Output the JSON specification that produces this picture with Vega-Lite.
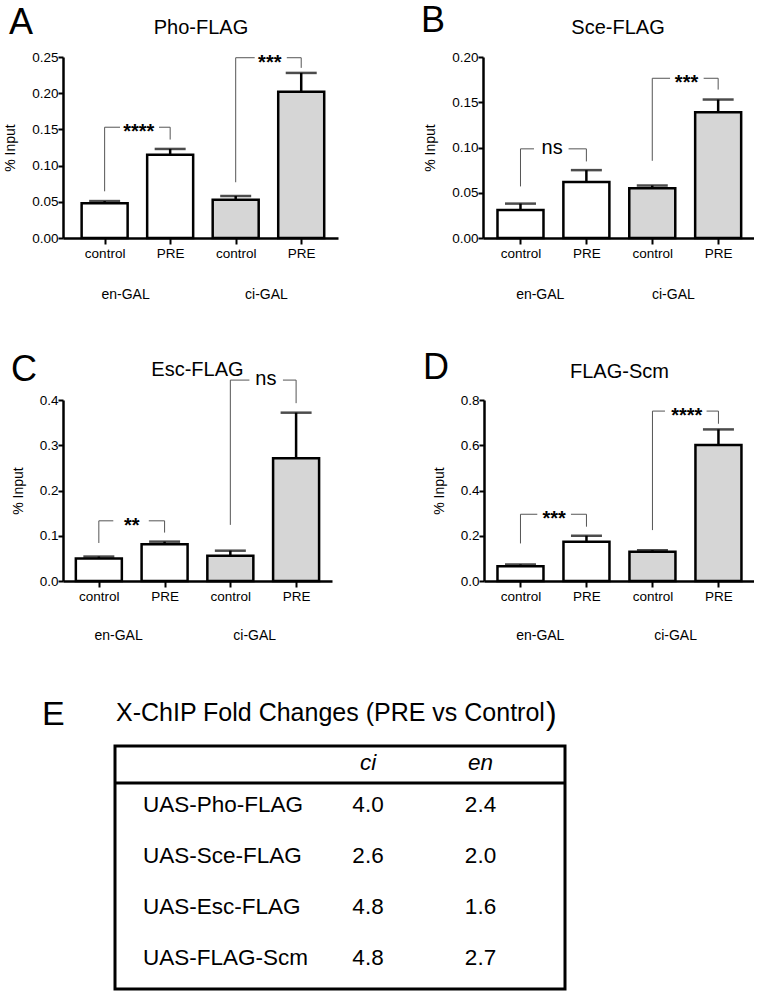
{
  "$schema": "https://vega.github.io/schema/vega-lite/v6.json",
  "background": "white",
  "padding": {"left": 3, "top": 3, "right": 0, "bottom": 0},
  "config": {
    "view": {"stroke": null},
    "font": "Liberation Sans",
    "text": {"font": "Liberation Sans", "color": "black"},
    "axis": {"domainColor": "black", "domainWidth": 2.5, "tickColor": "black", "tickWidth": 2, "labelColor": "black", "labelFont": "Liberation Sans", "labelFontSize": 13.5, "titleFont": "Liberation Sans", "titleFontSize": 14, "titleFontWeight": "normal", "titleColor": "black", "grid": false, "labelOverlap": false},
    "axisX": {"tickSize": 6, "labelPadding": 2},
    "axisY": {"tickSize": 5, "labelPadding": 0, "titlePadding": 14}
  },
  "datasets": {
    "bars": [
      {"panel": "A", "pos": 1, "group": "en", "cond": "control", "value": 0.048, "upper": 0.051},
      {"panel": "A", "pos": 2, "group": "en", "cond": "PRE", "value": 0.115, "upper": 0.123},
      {"panel": "A", "pos": 3, "group": "ci", "cond": "control", "value": 0.053, "upper": 0.058},
      {"panel": "A", "pos": 4, "group": "ci", "cond": "PRE", "value": 0.202, "upper": 0.228},
      {"panel": "B", "pos": 1, "group": "en", "cond": "control", "value": 0.031, "upper": 0.038},
      {"panel": "B", "pos": 2, "group": "en", "cond": "PRE", "value": 0.062, "upper": 0.075},
      {"panel": "B", "pos": 3, "group": "ci", "cond": "control", "value": 0.055, "upper": 0.058},
      {"panel": "B", "pos": 4, "group": "ci", "cond": "PRE", "value": 0.139, "upper": 0.153},
      {"panel": "C", "pos": 1, "group": "en", "cond": "control", "value": 0.050, "upper": 0.054},
      {"panel": "C", "pos": 2, "group": "en", "cond": "PRE", "value": 0.081, "upper": 0.087},
      {"panel": "C", "pos": 3, "group": "ci", "cond": "control", "value": 0.056, "upper": 0.067},
      {"panel": "C", "pos": 4, "group": "ci", "cond": "PRE", "value": 0.271, "upper": 0.372},
      {"panel": "D", "pos": 1, "group": "en", "cond": "control", "value": 0.065, "upper": 0.073},
      {"panel": "D", "pos": 2, "group": "en", "cond": "PRE", "value": 0.173, "upper": 0.200},
      {"panel": "D", "pos": 3, "group": "ci", "cond": "control", "value": 0.129, "upper": 0.136},
      {"panel": "D", "pos": 4, "group": "ci", "cond": "PRE", "value": 0.601, "upper": 0.670}
    ],
    "brackets": [
      {"panel": "A", "xl": 1, "xr": 2, "g1": 1.235, "g2": 1.83, "xt": 1.52, "ytop": 0.153, "yl": 0.0645, "yr": 0.136, "label": "****"},
      {"panel": "A", "xl": 3, "xr": 4, "g1": 3.29, "g2": 3.78, "xt": 3.52, "ytop": 0.249, "yl": 0.077, "yr": 0.235, "label": "***"},
      {"panel": "B", "xl": 1, "xr": 2, "g1": 1.205, "g2": 1.73, "xt": 1.48, "ytop": 0.0985, "yl": 0.057, "yr": 0.0846, "label": "ns"},
      {"panel": "B", "xl": 3, "xr": 4, "g1": 3.27, "g2": 3.78, "xt": 3.52, "ytop": 0.1765, "yl": 0.0853, "yr": 0.164, "label": "***"},
      {"panel": "C", "xl": 1, "xr": 2, "g1": 1.22, "g2": 1.76, "xt": 1.5, "ytop": 0.133, "yl": 0.084, "yr": 0.107, "label": "**"},
      {"panel": "C", "xl": 3, "xr": 4, "g1": 3.29, "g2": 3.8, "xt": 3.54, "ytop": 0.444, "yl": 0.124, "yr": 0.393, "label": "ns"},
      {"panel": "D", "xl": 1, "xr": 2, "g1": 1.255, "g2": 1.765, "xt": 1.51, "ytop": 0.295, "yl": 0.166, "yr": 0.24, "label": "***"},
      {"panel": "D", "xl": 3, "xr": 4, "g1": 3.19, "g2": 3.82, "xt": 3.52, "ytop": 0.751, "yl": 0.225, "yr": 0.695, "label": "****"}
    ],
    "groups": [
      {"panel": "A", "gx": 1.32, "label": "en-GAL"},
      {"panel": "A", "gx": 3.47, "label": "ci-GAL"},
      {"panel": "B", "gx": 1.30, "label": "en-GAL"},
      {"panel": "B", "gx": 3.32, "label": "ci-GAL"},
      {"panel": "C", "gx": 1.30, "label": "en-GAL"},
      {"panel": "C", "gx": 3.37, "label": "ci-GAL"},
      {"panel": "D", "gx": 1.30, "label": "en-GAL"},
      {"panel": "D", "gx": 3.35, "label": "ci-GAL"}
    ],
    "panels": [
      {"panel": "A", "letter": "A", "name": "Pho-FLAG"},
      {"panel": "B", "letter": "B", "name": "Sce-FLAG"},
      {"panel": "C", "letter": "C", "name": "Esc-FLAG"},
      {"panel": "D", "letter": "D", "name": "FLAG-Scm"}
    ],
    "table": [
      {"row": 1, "construct": "UAS-Pho-FLAG", "ci": 4.0, "en": 2.4},
      {"row": 2, "construct": "UAS-Sce-FLAG", "ci": 2.6, "en": 2.0},
      {"row": 3, "construct": "UAS-Esc-FLAG", "ci": 4.8, "en": 1.6},
      {"row": 4, "construct": "UAS-FLAG-Scm", "ci": 4.8, "en": 2.7}
    ],
    "header": [{"col": "ci"}, {"col": "en"}],
    "tabletitle": [{"letter": "E", "title": "X-ChIP Fold Changes (PRE vs Control", "close": ")"}]
  },
  "concat": [
    {
      "concat": [
        {
          "spacing": 83,
          "hconcat": [
            {
              "width": 275, "height": 181,
              "layer": [
                {"data": {"name": "bars"}, "transform": [{"filter": "datum.panel === 'A'"}],
                 "mark": {"type": "bar", "width": 46, "stroke": "black", "strokeWidth": 2.5},
                 "encoding": {
                   "x": {"field": "pos", "type": "quantitative", "scale": {"domain": [0.441, 4.485], "nice": false, "zero": false}, "axis": {"values": [1, 2, 3, 4], "tickCount": 4, "labelExpr": "datum.value % 2 == 1 ? 'control' : 'PRE'", "title": null, "labelFlush": false, "labelOverlap": false}},
                   "y": {"field": "value", "type": "quantitative", "scale": {"domain": [0, 0.25], "nice": false}, "axis": {"values": [0, 0.05, 0.1, 0.15, 0.2, 0.25], "tickCount": 6, "format": ".2f", "title": "% Input", "labelOverlap": false, "labelFlush": false}},
                   "fill": {"field": "group", "type": "nominal", "scale": {"domain": ["en", "ci"], "range": ["#ffffff", "#d6d6d6"]}, "legend": null}
                 }},
                {"data": {"name": "bars"}, "transform": [{"filter": "datum.panel === 'A'"}],
                 "mark": {"type": "rule", "color": "black", "strokeWidth": 2.5},
                 "encoding": {"x": {"field": "pos", "type": "quantitative"}, "y": {"field": "value", "type": "quantitative"}, "y2": {"field": "upper"}}},
                {"data": {"name": "bars"}, "transform": [{"filter": "datum.panel === 'A'"}],
                 "mark": {"type": "tick", "orient": "horizontal", "size": 31, "thickness": 2.5, "color": "black"},
                 "encoding": {"x": {"field": "pos", "type": "quantitative"}, "y": {"field": "upper", "type": "quantitative"}}},
                {"data": {"name": "brackets"}, "transform": [{"filter": "datum.panel === 'A'"}],
                 "mark": {"type": "rule", "color": "#555555", "strokeWidth": 1},
                 "encoding": {"x": {"field": "xl", "type": "quantitative"}, "y": {"field": "yl", "type": "quantitative"}, "y2": {"field": "ytop"}}},
                {"data": {"name": "brackets"}, "transform": [{"filter": "datum.panel === 'A'"}],
                 "mark": {"type": "rule", "color": "#555555", "strokeWidth": 1},
                 "encoding": {"x": {"field": "xr", "type": "quantitative"}, "y": {"field": "yr", "type": "quantitative"}, "y2": {"field": "ytop"}}},
                {"data": {"name": "brackets"}, "transform": [{"filter": "datum.panel === 'A'"}],
                 "mark": {"type": "rule", "color": "#555555", "strokeWidth": 1},
                 "encoding": {"x": {"field": "xl", "type": "quantitative"}, "x2": {"field": "g1"}, "y": {"field": "ytop", "type": "quantitative"}}},
                {"data": {"name": "brackets"}, "transform": [{"filter": "datum.panel === 'A'"}],
                 "mark": {"type": "rule", "color": "#555555", "strokeWidth": 1},
                 "encoding": {"x": {"field": "g2", "type": "quantitative"}, "x2": {"field": "xr"}, "y": {"field": "ytop", "type": "quantitative"}}},
                {"data": {"name": "brackets"}, "transform": [{"filter": "datum.panel === 'A' && datum.label !== 'ns'"}],
                 "mark": {"type": "text", "fontSize": 20, "fontWeight": "bold", "baseline": "alphabetic", "dy": 11},
                 "encoding": {"x": {"field": "xt", "type": "quantitative"}, "y": {"field": "ytop", "type": "quantitative"}, "text": {"field": "label"}}},
                {"data": {"name": "groups"}, "transform": [{"filter": "datum.panel === 'A'"}],
                 "mark": {"type": "text", "fontSize": 14, "baseline": "middle", "dy": 57},
                 "encoding": {"x": {"field": "gx", "type": "quantitative"}, "y": {"datum": 0}, "text": {"field": "label"}}},
                {"data": {"name": "panels"}, "transform": [{"filter": "datum.panel === 'A'"}],
                 "mark": {"type": "text", "fontSize": 36, "align": "left", "baseline": "middle", "dx": -59, "dy": -34},
                 "encoding": {"x": {"datum": 0.441}, "y": {"datum": 0.25}, "text": {"field": "letter"}}},
                {"data": {"name": "panels"}, "transform": [{"filter": "datum.panel === 'A'"}],
                 "mark": {"type": "text", "fontSize": 20, "baseline": "middle", "dy": -29},
                 "encoding": {"x": {"datum": 2.47}, "y": {"datum": 0.25}, "text": {"field": "name"}}}
              ]
            },
            {
              "width": 271, "height": 181,
              "layer": [
                {"data": {"name": "bars"}, "transform": [{"filter": "datum.panel === 'B'"}],
                 "mark": {"type": "bar", "width": 46, "stroke": "black", "strokeWidth": 2.5},
                 "encoding": {
                   "x": {"field": "pos", "type": "quantitative", "scale": {"domain": [0.507, 4.468], "nice": false, "zero": false}, "axis": {"values": [1, 2, 3, 4], "tickCount": 4, "labelExpr": "datum.value % 2 == 1 ? 'control' : 'PRE'", "title": null, "labelFlush": false, "labelOverlap": false}},
                   "y": {"field": "value", "type": "quantitative", "scale": {"domain": [0, 0.2], "nice": false}, "axis": {"values": [0, 0.05, 0.1, 0.15, 0.2], "tickCount": 5, "format": ".2f", "title": "% Input", "labelOverlap": false, "labelFlush": false}},
                   "fill": {"field": "group", "type": "nominal", "scale": {"domain": ["en", "ci"], "range": ["#ffffff", "#d6d6d6"]}, "legend": null}
                 }},
                {"data": {"name": "bars"}, "transform": [{"filter": "datum.panel === 'B'"}],
                 "mark": {"type": "rule", "color": "black", "strokeWidth": 2.5},
                 "encoding": {"x": {"field": "pos", "type": "quantitative"}, "y": {"field": "value", "type": "quantitative"}, "y2": {"field": "upper"}}},
                {"data": {"name": "bars"}, "transform": [{"filter": "datum.panel === 'B'"}],
                 "mark": {"type": "tick", "orient": "horizontal", "size": 31, "thickness": 2.5, "color": "black"},
                 "encoding": {"x": {"field": "pos", "type": "quantitative"}, "y": {"field": "upper", "type": "quantitative"}}},
                {"data": {"name": "brackets"}, "transform": [{"filter": "datum.panel === 'B'"}],
                 "mark": {"type": "rule", "color": "#555555", "strokeWidth": 1},
                 "encoding": {"x": {"field": "xl", "type": "quantitative"}, "y": {"field": "yl", "type": "quantitative"}, "y2": {"field": "ytop"}}},
                {"data": {"name": "brackets"}, "transform": [{"filter": "datum.panel === 'B'"}],
                 "mark": {"type": "rule", "color": "#555555", "strokeWidth": 1},
                 "encoding": {"x": {"field": "xr", "type": "quantitative"}, "y": {"field": "yr", "type": "quantitative"}, "y2": {"field": "ytop"}}},
                {"data": {"name": "brackets"}, "transform": [{"filter": "datum.panel === 'B'"}],
                 "mark": {"type": "rule", "color": "#555555", "strokeWidth": 1},
                 "encoding": {"x": {"field": "xl", "type": "quantitative"}, "x2": {"field": "g1"}, "y": {"field": "ytop", "type": "quantitative"}}},
                {"data": {"name": "brackets"}, "transform": [{"filter": "datum.panel === 'B'"}],
                 "mark": {"type": "rule", "color": "#555555", "strokeWidth": 1},
                 "encoding": {"x": {"field": "g2", "type": "quantitative"}, "x2": {"field": "xr"}, "y": {"field": "ytop", "type": "quantitative"}}},
                {"data": {"name": "brackets"}, "transform": [{"filter": "datum.panel === 'B' && datum.label !== 'ns'"}],
                 "mark": {"type": "text", "fontSize": 20, "fontWeight": "bold", "baseline": "alphabetic", "dy": 11},
                 "encoding": {"x": {"field": "xt", "type": "quantitative"}, "y": {"field": "ytop", "type": "quantitative"}, "text": {"field": "label"}}},
                {"data": {"name": "brackets"}, "transform": [{"filter": "datum.panel === 'B' && datum.label === 'ns'"}],
                 "mark": {"type": "text", "fontSize": 20, "baseline": "alphabetic", "dy": 5},
                 "encoding": {"x": {"field": "xt", "type": "quantitative"}, "y": {"field": "ytop", "type": "quantitative"}, "text": {"field": "label"}}},
                {"data": {"name": "groups"}, "transform": [{"filter": "datum.panel === 'B'"}],
                 "mark": {"type": "text", "fontSize": 14, "baseline": "middle", "dy": 57},
                 "encoding": {"x": {"field": "gx", "type": "quantitative"}, "y": {"datum": 0}, "text": {"field": "label"}}},
                {"data": {"name": "panels"}, "transform": [{"filter": "datum.panel === 'B'"}],
                 "mark": {"type": "text", "fontSize": 36, "align": "left", "baseline": "middle", "dx": -67, "dy": -36},
                 "encoding": {"x": {"datum": 0.507}, "y": {"datum": 0.2}, "text": {"field": "letter"}}},
                {"data": {"name": "panels"}, "transform": [{"filter": "datum.panel === 'B'"}],
                 "mark": {"type": "text", "fontSize": 20, "baseline": "middle", "dy": -29},
                 "encoding": {"x": {"datum": 2.48}, "y": {"datum": 0.2}, "text": {"field": "name"}}}
              ]
            }
          ]
        },
        {
          "spacing": 91,
          "hconcat": [
            {
              "width": 269, "height": 181,
              "layer": [
                {"data": {"name": "bars"}, "transform": [{"filter": "datum.panel === 'C'"}],
                 "mark": {"type": "bar", "width": 46, "stroke": "black", "strokeWidth": 2.5},
                 "encoding": {
                   "x": {"field": "pos", "type": "quantitative", "scale": {"domain": [0.531, 4.47], "nice": false, "zero": false}, "axis": {"values": [1, 2, 3, 4], "tickCount": 4, "labelExpr": "datum.value % 2 == 1 ? 'control' : 'PRE'", "title": null, "labelFlush": false, "labelOverlap": false}},
                   "y": {"field": "value", "type": "quantitative", "scale": {"domain": [0, 0.4], "nice": false}, "axis": {"values": [0, 0.1, 0.2, 0.3, 0.4], "tickCount": 5, "format": ".1f", "title": "% Input", "labelOverlap": false, "labelFlush": false}},
                   "fill": {"field": "group", "type": "nominal", "scale": {"domain": ["en", "ci"], "range": ["#ffffff", "#d6d6d6"]}, "legend": null}
                 }},
                {"data": {"name": "bars"}, "transform": [{"filter": "datum.panel === 'C'"}],
                 "mark": {"type": "rule", "color": "black", "strokeWidth": 2.5},
                 "encoding": {"x": {"field": "pos", "type": "quantitative"}, "y": {"field": "value", "type": "quantitative"}, "y2": {"field": "upper"}}},
                {"data": {"name": "bars"}, "transform": [{"filter": "datum.panel === 'C'"}],
                 "mark": {"type": "tick", "orient": "horizontal", "size": 31, "thickness": 2.5, "color": "black"},
                 "encoding": {"x": {"field": "pos", "type": "quantitative"}, "y": {"field": "upper", "type": "quantitative"}}},
                {"data": {"name": "brackets"}, "transform": [{"filter": "datum.panel === 'C'"}],
                 "mark": {"type": "rule", "color": "#555555", "strokeWidth": 1},
                 "encoding": {"x": {"field": "xl", "type": "quantitative"}, "y": {"field": "yl", "type": "quantitative"}, "y2": {"field": "ytop"}}},
                {"data": {"name": "brackets"}, "transform": [{"filter": "datum.panel === 'C'"}],
                 "mark": {"type": "rule", "color": "#555555", "strokeWidth": 1},
                 "encoding": {"x": {"field": "xr", "type": "quantitative"}, "y": {"field": "yr", "type": "quantitative"}, "y2": {"field": "ytop"}}},
                {"data": {"name": "brackets"}, "transform": [{"filter": "datum.panel === 'C'"}],
                 "mark": {"type": "rule", "color": "#555555", "strokeWidth": 1},
                 "encoding": {"x": {"field": "xl", "type": "quantitative"}, "x2": {"field": "g1"}, "y": {"field": "ytop", "type": "quantitative"}}},
                {"data": {"name": "brackets"}, "transform": [{"filter": "datum.panel === 'C'"}],
                 "mark": {"type": "rule", "color": "#555555", "strokeWidth": 1},
                 "encoding": {"x": {"field": "g2", "type": "quantitative"}, "x2": {"field": "xr"}, "y": {"field": "ytop", "type": "quantitative"}}},
                {"data": {"name": "brackets"}, "transform": [{"filter": "datum.panel === 'C' && datum.label !== 'ns'"}],
                 "mark": {"type": "text", "fontSize": 20, "fontWeight": "bold", "baseline": "alphabetic", "dy": 11},
                 "encoding": {"x": {"field": "xt", "type": "quantitative"}, "y": {"field": "ytop", "type": "quantitative"}, "text": {"field": "label"}}},
                {"data": {"name": "brackets"}, "transform": [{"filter": "datum.panel === 'C' && datum.label === 'ns'"}],
                 "mark": {"type": "text", "fontSize": 20, "baseline": "alphabetic", "dy": 5},
                 "encoding": {"x": {"field": "xt", "type": "quantitative"}, "y": {"field": "ytop", "type": "quantitative"}, "text": {"field": "label"}}},
                {"data": {"name": "groups"}, "transform": [{"filter": "datum.panel === 'C'"}],
                 "mark": {"type": "text", "fontSize": 14, "baseline": "middle", "dy": 55},
                 "encoding": {"x": {"field": "gx", "type": "quantitative"}, "y": {"datum": 0}, "text": {"field": "label"}}},
                {"data": {"name": "panels"}, "transform": [{"filter": "datum.panel === 'C'"}],
                 "mark": {"type": "text", "fontSize": 36, "align": "left", "baseline": "middle", "dx": -57, "dy": -30},
                 "encoding": {"x": {"datum": 0.531}, "y": {"datum": 0.4}, "text": {"field": "letter"}}},
                {"data": {"name": "panels"}, "transform": [{"filter": "datum.panel === 'C'"}],
                 "mark": {"type": "text", "fontSize": 20, "baseline": "middle", "dy": -30},
                 "encoding": {"x": {"datum": 2.5}, "y": {"datum": 0.4}, "text": {"field": "name"}}}
              ]
            },
            {
              "width": 270, "height": 181,
              "layer": [
                {"data": {"name": "bars"}, "transform": [{"filter": "datum.panel === 'D'"}],
                 "mark": {"type": "bar", "width": 46, "stroke": "black", "strokeWidth": 2.5},
                 "encoding": {
                   "x": {"field": "pos", "type": "quantitative", "scale": {"domain": [0.523, 4.463], "nice": false, "zero": false}, "axis": {"values": [1, 2, 3, 4], "tickCount": 4, "labelExpr": "datum.value % 2 == 1 ? 'control' : 'PRE'", "title": null, "labelFlush": false, "labelOverlap": false}},
                   "y": {"field": "value", "type": "quantitative", "scale": {"domain": [0, 0.8], "nice": false}, "axis": {"values": [0, 0.2, 0.4, 0.6, 0.8], "tickCount": 5, "format": ".1f", "title": "% Input", "labelOverlap": false, "labelFlush": false}},
                   "fill": {"field": "group", "type": "nominal", "scale": {"domain": ["en", "ci"], "range": ["#ffffff", "#d6d6d6"]}, "legend": null}
                 }},
                {"data": {"name": "bars"}, "transform": [{"filter": "datum.panel === 'D'"}],
                 "mark": {"type": "rule", "color": "black", "strokeWidth": 2.5},
                 "encoding": {"x": {"field": "pos", "type": "quantitative"}, "y": {"field": "value", "type": "quantitative"}, "y2": {"field": "upper"}}},
                {"data": {"name": "bars"}, "transform": [{"filter": "datum.panel === 'D'"}],
                 "mark": {"type": "tick", "orient": "horizontal", "size": 31, "thickness": 2.5, "color": "black"},
                 "encoding": {"x": {"field": "pos", "type": "quantitative"}, "y": {"field": "upper", "type": "quantitative"}}},
                {"data": {"name": "brackets"}, "transform": [{"filter": "datum.panel === 'D'"}],
                 "mark": {"type": "rule", "color": "#555555", "strokeWidth": 1},
                 "encoding": {"x": {"field": "xl", "type": "quantitative"}, "y": {"field": "yl", "type": "quantitative"}, "y2": {"field": "ytop"}}},
                {"data": {"name": "brackets"}, "transform": [{"filter": "datum.panel === 'D'"}],
                 "mark": {"type": "rule", "color": "#555555", "strokeWidth": 1},
                 "encoding": {"x": {"field": "xr", "type": "quantitative"}, "y": {"field": "yr", "type": "quantitative"}, "y2": {"field": "ytop"}}},
                {"data": {"name": "brackets"}, "transform": [{"filter": "datum.panel === 'D'"}],
                 "mark": {"type": "rule", "color": "#555555", "strokeWidth": 1},
                 "encoding": {"x": {"field": "xl", "type": "quantitative"}, "x2": {"field": "g1"}, "y": {"field": "ytop", "type": "quantitative"}}},
                {"data": {"name": "brackets"}, "transform": [{"filter": "datum.panel === 'D'"}],
                 "mark": {"type": "rule", "color": "#555555", "strokeWidth": 1},
                 "encoding": {"x": {"field": "g2", "type": "quantitative"}, "x2": {"field": "xr"}, "y": {"field": "ytop", "type": "quantitative"}}},
                {"data": {"name": "brackets"}, "transform": [{"filter": "datum.panel === 'D' && datum.label !== 'ns'"}],
                 "mark": {"type": "text", "fontSize": 20, "fontWeight": "bold", "baseline": "alphabetic", "dy": 11},
                 "encoding": {"x": {"field": "xt", "type": "quantitative"}, "y": {"field": "ytop", "type": "quantitative"}, "text": {"field": "label"}}},
                {"data": {"name": "brackets"}, "transform": [{"filter": "datum.panel === 'D' && datum.label === 'ns'"}],
                 "mark": {"type": "text", "fontSize": 20, "baseline": "alphabetic", "dy": 5},
                 "encoding": {"x": {"field": "xt", "type": "quantitative"}, "y": {"field": "ytop", "type": "quantitative"}, "text": {"field": "label"}}},
                {"data": {"name": "groups"}, "transform": [{"filter": "datum.panel === 'D'"}],
                 "mark": {"type": "text", "fontSize": 14, "baseline": "middle", "dy": 55},
                 "encoding": {"x": {"field": "gx", "type": "quantitative"}, "y": {"datum": 0}, "text": {"field": "label"}}},
                {"data": {"name": "panels"}, "transform": [{"filter": "datum.panel === 'D'"}],
                 "mark": {"type": "text", "fontSize": 36, "align": "left", "baseline": "middle", "dx": -66, "dy": -32},
                 "encoding": {"x": {"datum": 0.523}, "y": {"datum": 0.8}, "text": {"field": "letter"}}},
                {"data": {"name": "panels"}, "transform": [{"filter": "datum.panel === 'D'"}],
                 "mark": {"type": "text", "fontSize": 20, "baseline": "middle", "dy": -28},
                 "encoding": {"x": {"datum": 2.5}, "y": {"datum": 0.8}, "text": {"field": "name"}}}
              ]
            }
          ]
        }
      ],
      "columns": 1,
      "align": "none",
      "spacing": 48
    },
    {
      "spacing": 47,
      "hconcat": [
        {
          "width": 1, "height": 1,
          "data": {"name": "tabletitle"},
          "mark": {"type": "text", "align": "left", "baseline": "middle", "fontSize": 34, "dx": -21.5, "dy": -32},
          "encoding": {"text": {"field": "letter"}}
        },
        {
          "width": 450, "height": 243,
          "view": {"stroke": "black", "strokeWidth": 3},
          "layer": [
            {"data": {"name": "table"},
             "mark": {"type": "text", "align": "left", "baseline": "middle", "fontSize": 22.5},
             "encoding": {
               "x": {"datum": "construct", "type": "nominal", "scale": {"type": "point", "domain": ["construct", "gap", "ci", "en"], "paddingOuter": 0.5737, "align": 0.249}, "axis": null},
               "y": {"field": "row", "type": "quantitative", "scale": {"domain": [-0.157, 4.608], "reverse": true, "nice": false, "zero": false}, "axis": null},
               "text": {"field": "construct"}
             }},
            {"data": {"name": "table"},
             "mark": {"type": "text", "baseline": "middle", "fontSize": 22.5},
             "encoding": {"x": {"datum": "ci", "type": "nominal"}, "y": {"field": "row", "type": "quantitative"}, "text": {"field": "ci", "format": ".1f"}}},
            {"data": {"name": "table"},
             "mark": {"type": "text", "baseline": "middle", "fontSize": 22.5},
             "encoding": {"x": {"datum": "en", "type": "nominal"}, "y": {"field": "row", "type": "quantitative"}, "text": {"field": "en", "format": ".1f"}}},
            {"data": {"name": "header"},
             "mark": {"type": "text", "baseline": "middle", "fontSize": 22.5, "fontStyle": "italic"},
             "encoding": {"x": {"field": "col", "type": "nominal"}, "y": {"datum": 0.176, "type": "quantitative"}, "text": {"field": "col"}}},
            {"data": {"values": [{"k": 1}]},
             "mark": {"type": "rule", "color": "black", "strokeWidth": 3},
             "encoding": {"y": {"datum": 0.569, "type": "quantitative"}}},
            {"data": {"name": "tabletitle"},
             "mark": {"type": "text", "align": "left", "baseline": "middle", "fontSize": 25, "dx": -27, "dy": -50},
             "encoding": {"x": {"datum": "construct", "type": "nominal"}, "y": {"datum": 0.176, "type": "quantitative"}, "text": {"field": "title"}}},
            {"data": {"name": "tabletitle"},
             "mark": {"type": "text", "align": "left", "baseline": "middle", "fontSize": 32, "dx": 403, "dy": -49},
             "encoding": {"x": {"datum": "construct", "type": "nominal"}, "y": {"datum": 0.176, "type": "quantitative"}, "text": {"field": "close"}}}
          ]
        }
      ]
    }
  ],
  "columns": 1,
  "align": "none",
  "spacing": 53
}
